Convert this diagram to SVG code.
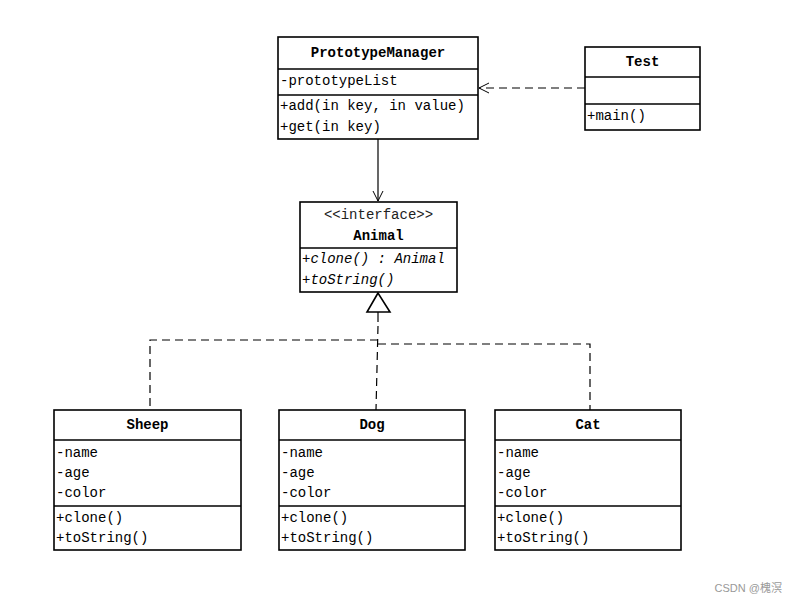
<svg xmlns="http://www.w3.org/2000/svg" width="798" height="603" viewBox="0 0 798 603">
<style>
  .box { fill: #fff; stroke: #000; stroke-width: 1.6; }
  .sep { stroke: #000; stroke-width: 1.4; }
  .t { font-family: "Liberation Mono", "DejaVu Sans Mono", monospace; font-size: 14px; fill: #000; }
  .title { font-weight: bold; text-anchor: middle; }
  .it { font-style: italic; }
  .stereo { text-anchor: middle; fill: #222; }
  .dash { fill: none; stroke: #000; stroke-width: 1.2; stroke-dasharray: 8,5; }
  .solid { fill: none; stroke: #000; stroke-width: 1.2; }
</style>
<defs>
  <marker id="open" markerWidth="12" markerHeight="12" refX="11" refY="6" orient="auto" markerUnits="userSpaceOnUse">
    <path d="M1,1 L11,6 L1,11" fill="none" stroke="#000" stroke-width="1"/>
  </marker>
</defs>
<rect width="798" height="603" fill="#fff"/>

<g id="connectors">
  <line class="dash" x1="585" y1="88" x2="479" y2="88" marker-end="url(#open)"/>
  <line class="solid" x1="378" y1="139" x2="378" y2="201" marker-end="url(#open)"/>
  <polygon points="378,293 367,312 390,312" fill="#fff" stroke="#000" stroke-width="1.6"/>
  <line class="solid" x1="378" y1="312" x2="378" y2="322"/>
  <path class="dash" d="M378,340 L150,340 L150,410"/>
  <path class="dash" d="M378,344 L590,344 L590,410"/>
  <line class="dash" x1="378" y1="326" x2="376" y2="410"/>
</g>

<g id="PrototypeManager">
  <rect class="box" x="278" y="37" width="200" height="102"/>
  <line class="sep" x1="278" y1="69" x2="478" y2="69"/>
  <line class="sep" x1="278" y1="95" x2="478" y2="95"/>
  <text class="t title" x="378" y="57">PrototypeManager</text>
  <text class="t" x="280" y="85">-prototypeList</text>
  <text class="t" x="280" y="110">+add(in key, in value)</text>
  <text class="t" x="280" y="131">+get(in key)</text>
</g>

<g id="Test">
  <rect class="box" x="585" y="47" width="115" height="83"/>
  <line class="sep" x1="585" y1="77" x2="700" y2="77"/>
  <line class="sep" x1="585" y1="104" x2="700" y2="104"/>
  <text class="t title" x="642.5" y="66">Test</text>
  <text class="t" x="587" y="120">+main()</text>
</g>

<g id="Animal">
  <rect class="box" x="300" y="202" width="157" height="90"/>
  <line class="sep" x1="300" y1="248" x2="457" y2="248"/>
  <text class="t stereo" x="378.5" y="219">&lt;&lt;interface&gt;&gt;</text>
  <text class="t title" x="378.5" y="240">Animal</text>
  <text class="t it" x="302" y="263">+clone() : Animal</text>
  <text class="t it" x="302" y="284">+toString()</text>
</g>

<g id="Sheep">
  <rect class="box" x="54" y="410" width="187" height="140"/>
  <line class="sep" x1="54" y1="440" x2="241" y2="440"/>
  <line class="sep" x1="54" y1="506" x2="241" y2="506"/>
  <text class="t title" x="147.5" y="429">Sheep</text>
  <text class="t" x="56" y="457">-name</text>
  <text class="t" x="56" y="477">-age</text>
  <text class="t" x="56" y="497">-color</text>
  <text class="t" x="56" y="522">+clone()</text>
  <text class="t" x="56" y="542">+toString()</text>
</g>

<g id="Dog">
  <rect class="box" x="279" y="410" width="186" height="140"/>
  <line class="sep" x1="279" y1="440" x2="465" y2="440"/>
  <line class="sep" x1="279" y1="506" x2="465" y2="506"/>
  <text class="t title" x="372" y="429">Dog</text>
  <text class="t" x="281" y="457">-name</text>
  <text class="t" x="281" y="477">-age</text>
  <text class="t" x="281" y="497">-color</text>
  <text class="t" x="281" y="522">+clone()</text>
  <text class="t" x="281" y="542">+toString()</text>
</g>

<g id="Cat">
  <rect class="box" x="495" y="410" width="186" height="140"/>
  <line class="sep" x1="495" y1="440" x2="681" y2="440"/>
  <line class="sep" x1="495" y1="506" x2="681" y2="506"/>
  <text class="t title" x="588" y="429">Cat</text>
  <text class="t" x="497" y="457">-name</text>
  <text class="t" x="497" y="477">-age</text>
  <text class="t" x="497" y="497">-color</text>
  <text class="t" x="497" y="522">+clone()</text>
  <text class="t" x="497" y="542">+toString()</text>
</g>

<text x="782" y="592" text-anchor="end" font-family="'Liberation Sans', 'Noto Sans CJK SC', sans-serif" font-size="11" fill="#999">CSDN @槐溟</text>
</svg>
